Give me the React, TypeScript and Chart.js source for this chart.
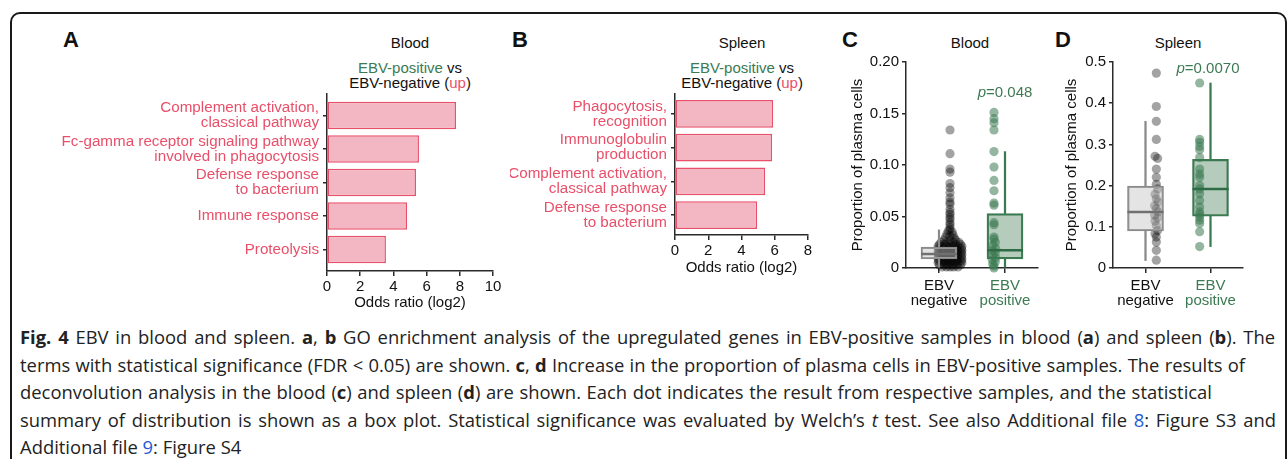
import React, { useEffect, useRef } from 'react';
import { Chart, registerables } from 'chart.js';

Chart.register(...registerables);

// ---------- data ----------
const bloodTerms: (string | string[])[] = [
  ['Complement activation,', 'classical pathway'],
  ['Fc-gamma receptor signaling pathway', 'involved in phagocytosis'],
  ['Defense response', 'to bacterium'],
  'Immune response',
  'Proteolysis',
];
const bloodOdds = [7.77, 5.54, 5.36, 4.82, 3.55];
const bloodOddsTicksMax = 10;

const spleenTerms: (string | string[])[] = [
  ['Phagocytosis,', 'recognition'],
  ['Immunoglobulin', 'production'],
  ['Complement activation,', 'classical pathway'],
  ['Defense response', 'to bacterium'],
];
const spleenOdds = [5.9, 5.84, 5.42, 4.94];
const spleenOddsTicksMax = 8;

const groups = ['EBV negative', 'EBV positive'];

// box statistics: [lower whisker, q1, median, q3, upper whisker]
const bloodBoxNegative = [0.0, 0.0087, 0.0135, 0.0202, 0.037];
const bloodBoxPositive = [0.0, 0.0087, 0.0173, 0.0529, 0.113];
const spleenBoxNegative = [0.018, 0.09, 0.136, 0.199, 0.356];
const spleenBoxPositive = [0.052, 0.126, 0.192, 0.264, 0.449];

// sample points: [proportion, swarm offset in category units]
const bloodNegative: [number, number][] = [
  [0.134, 0], [0.111, 0], [0.096, 0], [0.093, 0], [0.082, 0], [0.078, 0], [0.073, 0],
  [0.068, 0], [0.064, 0], [0.062, 0], [0.057, 0], [0.054, 0], [0.052, 0], [0.049, 0],
  [0.047, 0], [0.044, 0], [0.042, 0], [0.039, 0], [0.037, 0],
  [0.036, -0.04], [0.035, 0.05], [0.033, -0.07], [0.032, 0.07], [0.031, 0], [0.030, -0.1], [0.029, 0.1],
  [0.027, -0.14], [0.027, 0], [0.027, 0.13],
  [0.025, -0.2], [0.025, -0.07], [0.025, 0.07], [0.025, 0.2],
  [0.023, -0.24], [0.023, -0.12], [0.023, 0], [0.023, 0.12], [0.023, 0.24],
  [0.021, -0.27], [0.021, -0.18], [0.021, -0.09], [0.021, 0], [0.021, 0.09], [0.021, 0.18], [0.021, 0.27],
  [0.019, -0.26], [0.019, -0.15], [0.019, -0.05], [0.019, 0.05], [0.019, 0.15], [0.019, 0.26],
  [0.017, -0.27], [0.017, -0.18], [0.017, -0.09], [0.017, 0], [0.017, 0.09], [0.017, 0.18], [0.017, 0.27],
  [0.015, -0.26], [0.015, -0.15], [0.015, -0.05], [0.015, 0.05], [0.015, 0.15], [0.015, 0.26],
  [0.013, -0.27], [0.013, -0.18], [0.013, -0.09], [0.013, 0], [0.013, 0.09], [0.013, 0.18], [0.013, 0.27],
  [0.011, -0.26], [0.011, -0.15], [0.011, -0.05], [0.011, 0.05], [0.011, 0.15], [0.011, 0.26],
  [0.009, -0.27], [0.009, -0.18], [0.009, -0.09], [0.009, 0], [0.009, 0.09], [0.009, 0.18], [0.009, 0.27],
  [0.007, -0.26], [0.007, -0.15], [0.007, -0.05], [0.007, 0.05], [0.007, 0.15], [0.007, 0.26],
  [0.005, -0.27], [0.005, -0.18], [0.005, -0.09], [0.005, 0], [0.005, 0.09], [0.005, 0.18], [0.005, 0.27],
  [0.003, -0.24], [0.003, -0.14], [0.003, -0.05], [0.003, 0.05], [0.003, 0.14], [0.003, 0.24],
  [0.001, -0.18], [0.001, -0.08], [0.001, 0], [0.001, 0.08], [0.001, 0.18],
];
const bloodPositive: [number, number][] = [
  [0.151, 0], [0.145, 0], [0.141, 0], [0.134, 0], [0.113, 0], [0.098, 0], [0.085, 0],
  [0.075, 0], [0.063, 0], [0.061, 0], [0.044, 0], [0.042, 0], [0.030, 0], [0.028, 0],
  [0.025, 0.03], [0.022, -0.03], [0.019, 0.04], [0.017, -0.04], [0.015, 0.03], [0.012, -0.03],
  [0.010, 0.04], [0.008, -0.04], [0.006, 0.03], [0.004, -0.03], [0.002, 0], [0.0, 0],
];
const spleenNegative: [number, number][] = [
  [0.473, 0], [0.392, 0], [0.356, 0], [0.312, 0], [0.271, -0.03], [0.266, 0.03], [0.24, 0],
  [0.22, 0], [0.203, 0], [0.192, 0.03], [0.179, -0.03], [0.168, 0], [0.16, 0.04], [0.151, -0.04],
  [0.144, 0], [0.136, 0.04], [0.128, -0.04], [0.122, 0.03], [0.114, -0.03], [0.103, 0],
  [0.091, 0.03], [0.083, -0.03], [0.075, 0], [0.063, 0], [0.043, 0], [0.019, 0],
];
const spleenPositive: [number, number][] = [
  [0.449, 0], [0.312, 0], [0.305, 0], [0.295, 0], [0.287, 0], [0.268, 0], [0.24, 0],
  [0.228, 0], [0.22, 0], [0.2, 0], [0.192, 0], [0.18, 0], [0.164, 0], [0.148, 0],
  [0.136, 0], [0.13, 0], [0.124, 0], [0.116, 0], [0.108, 0], [0.088, 0], [0.052, 0],
];

// ---------- styles ----------
const FONT = '"Liberation Sans", Arial, Helvetica, sans-serif';
const PINK = '#e8506a';
const BAR_FILL = '#f2b7c3';
const GREEN = '#3c7a52';
const AXIS = '#2a2a2a';
const TEXT = '#111111';
const NEG_DOT = 'rgba(0,0,0,0.36)';
const POS_DOT = 'rgba(60,122,82,0.55)';
const NEG_LINE = '#8a8a8a';
const NEG_FILL = 'rgba(195,195,195,0.45)';
const POS_LINE = '#3c7a52';
const POS_FILL = 'rgba(60,122,82,0.38)';

type Box = { left: number; top: number; width: number; height: number };

function useChart(ref: React.RefObject<HTMLCanvasElement | null>, make: () => any) {
  useEffect(() => {
    if (!ref.current) return;
    const chart = new Chart(ref.current, make());
    return () => chart.destroy();
  }, []);
}

function HBarPanel(props: {
  box: Box; labels: (string | string[])[]; values: number[]; xMax: number;
  axisW: number; axisH: number; padTop: number; padRight: number;
}) {
  const ref = useRef<HTMLCanvasElement>(null);
  const { box } = props;
  useChart(ref, () => {
    const n = props.labels.length;
    const margin = 0.05 * (n - 1 + 0.8);
    return {
      type: 'bar',
      data: {
        datasets: [{
          data: props.values.map((v, i) => ({ x: v, y: i })),
          backgroundColor: BAR_FILL,
          borderColor: PINK,
          borderWidth: 1.5,
          borderSkipped: false,
          barPercentage: 0.82,
          categoryPercentage: 1,
        }],
      },
      options: {
        indexAxis: 'y',
        responsive: false,
        animation: false,
        layout: { padding: { top: props.padTop, right: props.padRight, left: 0, bottom: 0 } },
        plugins: { legend: { display: false }, tooltip: { enabled: false } },
        scales: {
          x: {
            type: 'linear', min: 0, max: props.xMax,
            ticks: { stepSize: 2, color: TEXT, font: { family: FONT, size: 15 }, padding: 2, maxRotation: 0 },
            grid: { drawOnChartArea: false, tickLength: 5, color: AXIS, lineWidth: 1.5 },
            border: { color: AXIS, width: 1.5 },
            title: { display: true, text: 'Odds ratio (log2)', color: TEXT, font: { family: FONT, size: 15 }, padding: { top: 0, bottom: 1 } },
            afterFit: (s: any) => { s.height = props.axisH; },
          },
          y: {
            type: 'linear', reverse: true, offset: false,
            min: -0.4 - margin, max: n - 1 + 0.4 + margin,
            afterBuildTicks: (s: any) => { s.ticks = props.labels.map((_l, i) => ({ value: i })); },
            ticks: {
              callback: (v: number) => props.labels[v],
              color: PINK, font: { family: FONT, size: 15.2, lineHeight: 0.99 }, padding: 4, autoSkip: false,
            },
            grid: { offset: false, drawOnChartArea: false, tickLength: 4, color: AXIS, lineWidth: 1.5 },
            border: { color: AXIS, width: 1.5 },
            afterFit: (s: any) => { s.width = props.axisW; s.paddingTop = 0; s.paddingBottom = 0; },
          },
        },
      },
    };
  });
  return (
    <canvas ref={ref} width={box.width} height={box.height}
      style={{ position: 'absolute', left: box.left, top: box.top, width: box.width, height: box.height }} />
  );
}

function BoxPanel(props: {
  box: Box; neg: [number, number][]; pos: [number, number][];
  negBox: number[]; posBox: number[]; yMax: number; step: number; digits: number;
  axisW: number; axisH: number; padTop: number; padRight: number;
}) {
  const ref = useRef<HTMLCanvasElement>(null);
  const { box } = props;
  useChart(ref, () => {
    const stats = [props.negBox, props.posBox];
    const medianPlugin = {
      id: 'medianLines',
      afterDatasetsDraw(chart: any) {
        const meta = chart.getDatasetMeta(4);
        const y = chart.scales.y;
        const ctx = chart.ctx;
        ctx.save();
        meta.data.forEach((bar: any, i: number) => {
          const py = y.getPixelForValue(stats[i][2]);
          ctx.strokeStyle = i === 0 ? '#707070' : '#2f6b45';
          ctx.lineWidth = 2.5;
          ctx.beginPath();
          ctx.moveTo(bar.x - bar.width / 2, py);
          ctx.lineTo(bar.x + bar.width / 2, py);
          ctx.stroke();
        });
        ctx.restore();
      },
    };
    const pts = (arr: [number, number][], gi: number) => arr.map(([v, o]) => ({ x: gi + o, y: v }));
    return {
      type: 'bar',
      data: {
        labels: groups,
        datasets: [
          { type: 'line', xAxisID: 'xp', data: pts(props.neg, 0), showLine: false, pointRadius: 4.6, pointBorderWidth: 0, pointBackgroundColor: NEG_DOT, order: 5, clip: false },
          { type: 'line', xAxisID: 'xp', data: pts(props.pos, 1), showLine: false, pointRadius: 4.6, pointBorderWidth: 0, pointBackgroundColor: POS_DOT, order: 4, clip: false },
          { type: 'bar', data: stats.map((s) => [s[0], s[1]]), barThickness: 1.6, backgroundColor: [NEG_LINE, POS_LINE], grouped: false, order: 3 },
          { type: 'bar', data: stats.map((s) => [s[3], s[4]]), barThickness: 1.6, backgroundColor: [NEG_LINE, POS_LINE], grouped: false, order: 2 },
          { type: 'bar', data: stats.map((s) => [s[1], s[3]]), barThickness: 36, backgroundColor: [NEG_FILL, POS_FILL], borderColor: [NEG_LINE, POS_LINE], borderWidth: 1.6, borderSkipped: false, grouped: false, order: 1 },
        ],
      },
      plugins: [medianPlugin],
      options: {
        responsive: false,
        animation: false,
        layout: { padding: { top: props.padTop, right: props.padRight, left: 0, bottom: 0 } },
        plugins: { legend: { display: false }, tooltip: { enabled: false } },
        scales: {
          x: {
            type: 'category', offset: true,
            ticks: {
              callback: (_v: any, i: number) => groups[i].split(' '),
              color: (c: any) => (c.index === 1 ? GREEN : TEXT),
              font: { family: FONT, size: 15, lineHeight: 0.97 }, padding: 6, maxRotation: 0,
            },
            grid: { offset: false, drawOnChartArea: false, tickLength: 5, color: AXIS, lineWidth: 1.5 },
            border: { color: AXIS, width: 1.5 },
            afterFit: (s: any) => { s.height = props.axisH; },
          },
          xp: { type: 'linear', axis: 'x', position: 'bottom', display: false, min: -0.5, max: 1.5 },
          y: {
            min: 0, max: props.yMax,
            ticks: {
              stepSize: props.step, color: TEXT, font: { family: FONT, size: 15 }, padding: 3,
              callback: (v: number) => (v === 0 ? '0' : v.toFixed(props.digits)),
            },
            grid: { drawOnChartArea: false, tickLength: 4, color: AXIS, lineWidth: 1.5 },
            border: { color: AXIS, width: 1.5 },
            title: { display: true, text: 'Proportion of plasma cells', color: TEXT, font: { family: FONT, size: 15 }, padding: { top: 4, bottom: 0 } },
            afterFit: (s: any) => { s.width = props.axisW; },
          },
        },
      },
    };
  });
  return (
    <canvas ref={ref} width={box.width} height={box.height}
      style={{ position: 'absolute', left: box.left, top: box.top, width: box.width, height: box.height }} />
  );
}

const abs = (left: number, top: number, extra: React.CSSProperties = {}): React.CSSProperties => ({
  position: 'absolute', left, top, fontFamily: FONT, color: TEXT, whiteSpace: 'nowrap', ...extra,
});

function PanelHeader(props: { letter: string; lx: number; title: string; cx: number; subtitle: boolean }) {
  return (
    <>
      <div style={abs(props.lx, 29, { fontSize: 22, fontWeight: 700, lineHeight: '22px' })}>{props.letter}</div>
      <div style={abs(props.cx - 100, 35, { width: 200, textAlign: 'center', fontSize: 15, lineHeight: '15px' })}>{props.title}</div>
      {props.subtitle && (
        <div style={abs(props.cx - 110, 59.5, { width: 220, textAlign: 'center', fontSize: 15, lineHeight: '15px' })}>
          <span style={{ color: GREEN }}>EBV-positive</span> vs<br />
          EBV-negative (<span style={{ color: PINK }}>up</span>)
        </div>
      )}
    </>
  );
}

function CaptionLine(props: { width?: number; children: React.ReactNode }) {
  const style: React.CSSProperties = props.width
    ? { width: props.width, textAlign: 'justify', textAlignLast: 'justify' as any, whiteSpace: 'normal' }
    : {};
  return <div style={style}>{props.children}</div>;
}

export default function App() {
  const link: React.CSSProperties = { color: '#1f5bd6' };
  return (
    <div style={{ position: 'fixed', left: 0, top: 0, width: 1288, height: 459, overflow: 'hidden', background: '#fff' }}>
      <div style={{ position: 'absolute', left: 10, top: 12, width: 1277, height: 600, border: '2px solid #1a1a1a', borderRadius: 10, boxSizing: 'border-box' }} />

      <PanelHeader letter="A" lx={63} title="Blood" cx={410} subtitle />
      <PanelHeader letter="B" lx={512} title="Spleen" cx={742} subtitle />
      <PanelHeader letter="C" lx={842} title="Blood" cx={970} subtitle={false} />
      <PanelHeader letter="D" lx={1055} title="Spleen" cx={1178} subtitle={false} />

      <HBarPanel box={{ left: 20, top: 88, width: 490, height: 225 }} labels={bloodTerms} values={bloodOdds}
        xMax={bloodOddsTicksMax} axisW={307} axisH={42} padTop={6} padRight={17} />
      <HBarPanel box={{ left: 510, top: 88, width: 310, height: 190 }} labels={spleenTerms} values={spleenOdds}
        xMax={spleenOddsTicksMax} axisW={165} axisH={43} padTop={6} padRight={12} />

      <BoxPanel box={{ left: 845, top: 50, width: 201, height: 262 }} neg={bloodNegative} pos={bloodPositive}
        negBox={bloodBoxNegative} posBox={bloodBoxPositive} yMax={0.2} step={0.05} digits={2}
        axisW={61} axisH={44} padTop={10} padRight={8} />
      <BoxPanel box={{ left: 1059, top: 50, width: 196, height: 262 }} neg={spleenNegative} pos={spleenPositive}
        negBox={spleenBoxNegative} posBox={spleenBoxPositive} yMax={0.5} step={0.1} digits={1}
        axisW={54} axisH={44} padTop={10} padRight={12} />

      <div style={abs(955, 83.5, { width: 100, textAlign: 'center', fontSize: 15, lineHeight: '15px', color: GREEN })}>
        <i>p</i>=0.048
      </div>
      <div style={abs(1158, 59.5, { width: 100, textAlign: 'center', fontSize: 15, lineHeight: '15px', color: GREEN })}>
        <i>p</i>=0.0070
      </div>

      <div style={abs(20, 323, { fontFamily: '"Open Sans", "Noto Sans", sans-serif', fontSize: 18.4, lineHeight: '27.5px', color: '#222' })}>
        <CaptionLine width={1255}><b>Fig. 4</b> EBV in blood and spleen. <b>a</b>, <b>b</b> GO enrichment analysis of the upregulated genes in EBV-positive samples in blood (<b>a</b>) and spleen (<b>b</b>). The</CaptionLine>
        <CaptionLine width={1225}>terms with statistical significance (FDR &lt; 0.05) are shown. <b>c</b>, <b>d</b> Increase in the proportion of plasma cells in EBV-positive samples. The results of</CaptionLine>
        <CaptionLine width={1192}>deconvolution analysis in the blood (<b>c</b>) and spleen (<b>d</b>) are shown. Each dot indicates the result from respective samples, and the statistical</CaptionLine>
        <CaptionLine width={1256}>summary of distribution is shown as a box plot. Statistical significance was evaluated by Welch’s <i>t</i> test. See also Additional file <span style={link}>8</span>: Figure S3 and</CaptionLine>
        <CaptionLine>Additional file <span style={link}>9</span>: Figure S4</CaptionLine>
      </div>
    </div>
  );
}
